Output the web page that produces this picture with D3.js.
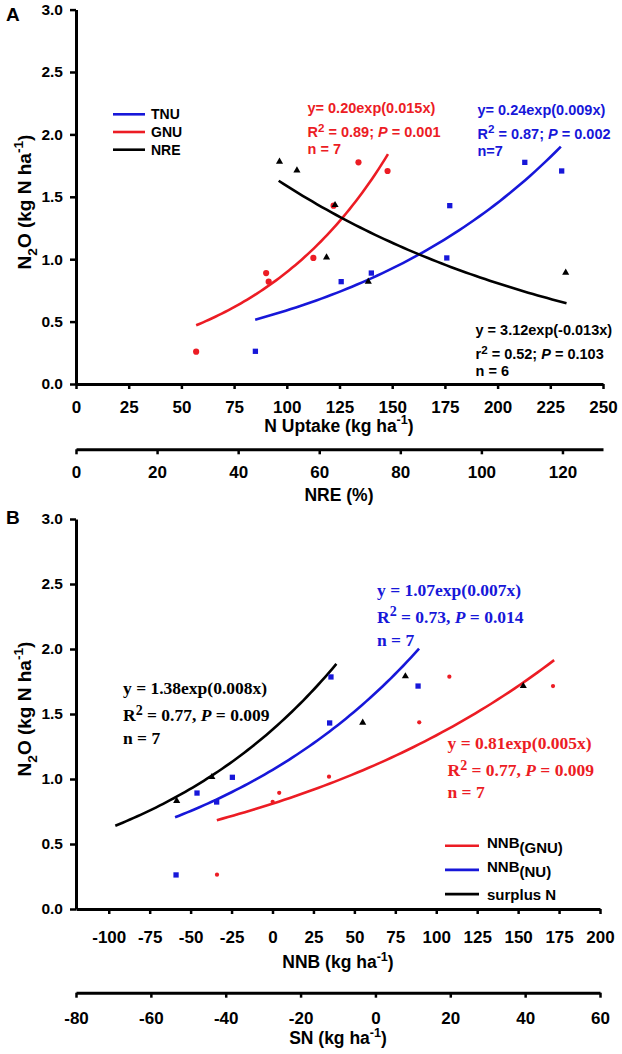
<!DOCTYPE html>
<html><head><meta charset="utf-8">
<script src="https://cdn.jsdelivr.net/npm/d3@7"></script>
<style>
html,body{margin:0;padding:0;background:#fff;}
svg{display:block;}
text{font-family:"Liberation Sans",Arial,sans-serif;font-weight:bold;}
.serif{font-family:"Liberation Serif","Times New Roman",serif;}
</style></head>
<body>
<svg id="chart" width="622" height="1054"></svg>
<script>
// ---------- Panel A data ----------
const uptakeTNU = [85.1, 125.8, 140.1, 175.9, 177.3, 212.9, 230.4];
const n2oTNU    = [0.262, 0.82, 0.889, 1.01, 1.429, 1.776, 1.707];
const uptakeGNU = [57.0, 90.2, 91.4, 112.6, 122.2, 134.0, 147.8];
const n2oGNU    = [0.259, 0.889, 0.82, 1.01, 1.429, 1.776, 1.707];
const nreValues = [50.2, 54.5, 61.8, 63.9, 72.1, 120.8];
const n2oNRE    = [1.781, 1.712, 1.015, 1.434, 0.82, 0.892];
const uptakeTicks = [0, 25, 50, 75, 100, 125, 150, 175, 200, 225, 250];
const nreTicks = [0, 20, 40, 60, 80, 100, 120];
const n2oTicks = [0, 0.5, 1.0, 1.5, 2.0, 2.5, 3.0];
// fitted exponential curves y = a*exp(b*x), drawn between fitFrom and fitTo
const fitNamesA = ["GNU", "TNU", "NRE"];
const fitA_a = [0.20, 0.24, 3.12];
const fitA_b = [0.015, 0.009, -0.013];
const fitA_from = [57, 85, 50];
const fitA_to = [148, 230, 121];

// ---------- Panel B data ----------
const nnbNU   = [-58.9, -46.1, -34.1, -24.5, 34.9, 35.7, 88.9];
const n2oNU   = [0.262, 0.892, 0.823, 1.013, 1.431, 1.785, 1.715];
const nnbGNU  = [-33.9, 0.1, 4.1, 34.5, 89.6, 108.0, 171.3];
const n2oGNUb = [0.264, 0.825, 0.894, 1.018, 1.436, 1.787, 1.715];
const snValues = [-53.1, -43.7, -3.4, 8.0, 39.5];
const n2oSN    = [0.831, 1.015, 1.433, 1.79, 1.715];
const nnbTicks = [-100, -75, -50, -25, 0, 25, 50, 75, 100, 125, 150, 175, 200];
const snTicks = [-80, -60, -40, -20, 0, 20, 40, 60];
const fitNamesB = ["GNU", "NU", "SN"];
const fitB_a = [0.81, 1.07, 1.38];
const fitB_b = [0.005, 0.007, 0.008];
const fitB_from = [-34, -59.5, -96];
const fitB_to = [172, 89.5, 39];

// ---------- styles ----------
const RED = "#ec1c24", BLUE = "#1717d9", BLACK = "#000";
const svg = d3.select("#chart");

// ---------- scales ----------
const xA = d3.scaleLinear().domain([0, 250]).range([76, 603]);
const xNRE = d3.scaleLinear().domain([0, 130]).range([76, 603]);
const yA = d3.scaleLinear().domain([0, 3]).range([384, 9.6]);
const xB = d3.scaleLinear().domain([-120, 200]).range([76, 600]);
const xSN = d3.scaleLinear().domain([-80, 60]).range([76, 600]);
const yB = d3.scaleLinear().domain([0, 3]).range([909, 519]);

const TICK_FS = 17, TITLE_FS = 17.5;
function styleAxis(g, fs) {
  g.select(".domain").attr("stroke", "#000").attr("stroke-width", 3);
  g.selectAll(".tick line").attr("stroke", "#000").attr("stroke-width", 2.5);
  g.selectAll(".tick text").attr("font-size", fs).attr("font-family", '"Liberation Sans",Arial,sans-serif')
    .attr("font-weight", "bold").attr("fill", "#000");
}
function bottomAxis(scale, ticks, yPos, labelOffset) {
  const g = svg.append("g").attr("transform", `translate(0,${yPos})`)
    .call(d3.axisBottom(scale).tickValues(ticks).tickSize(5).tickSizeOuter(0).tickFormat(d => String(d)));
  styleAxis(g, TICK_FS);
  g.selectAll(".tick text").attr("y", labelOffset).attr("dy", "0.35em");
  return g;
}
function leftAxis(scale, x) {
  const g = svg.append("g").attr("transform", `translate(${x},0)`)
    .call(d3.axisLeft(scale).tickValues(n2oTicks).tickSize(6).tickPadding(7).tickSizeOuter(0).tickFormat(d3.format(".1f")));
  styleAxis(g, 15.5);
  return g;
}
function supLabel(x, y, parts, fs, anchor, rotate) {
  const t = svg.append("text").attr("font-size", fs).attr("text-anchor", anchor || "middle");
  if (rotate) t.attr("transform", `translate(${x},${y}) rotate(-90)`); else t.attr("x", x).attr("y", y);
  parts.forEach(p => {
    const s = t.append("tspan").text(p.t);
    if (p.sub) s.attr("font-size", fs * 0.72).attr("dy", fs * 0.3);
    if (p.sup) s.attr("font-size", fs * 0.72).attr("dy", -fs * 0.42);
    if (p.back) s.attr("dy", p.back * fs);
    if (p.italic) s.attr("font-style", "italic");
  });
  return t;
}
const titleParts = [{t: "N"}, {t: "2", sub: 1}, {t: "O (kg N ha", back: -0.3}, {t: "-1", sup: 1}, {t: ")", back: 0.42}];

function drawFit(xs, ys, a, b, from, to, color) {
  const pts = d3.range(0, 61).map(i => from + (to - from) * i / 60);
  svg.append("path").attr("d", d3.line().x(d => xs(d)).y(d => ys(a * Math.exp(b * d)))(pts))
    .attr("fill", "none").attr("stroke", color).attr("stroke-width", 2.6);
}
function drawPoints(xs, ys, X, Y, shape, size, color) {
  const sym = d3.symbol().type(shape).size(size);
  svg.append("g").selectAll("path").data(X).join("path")
    .attr("d", sym).attr("fill", color)
    .attr("transform", (d, i) => `translate(${xs(d)},${ys(Y[i])})`);
}
function eqBlock(x, ys, lines, color, fs, cls) {
  lines.forEach((parts, i) => {
    const t = svg.append("text").attr("x", x).attr("y", ys[i]).attr("dy", "0.36em").attr("font-size", fs).attr("fill", color);
    if (cls) t.attr("class", cls);
    parts.forEach(p => {
      const s = t.append("tspan").text(p.t);
      if (p.sup) s.attr("font-size", fs * 0.8).attr("dy", -fs * 0.38);
      if (p.back) s.attr("dy", fs * 0.38);
      if (p.italic) s.attr("font-style", "italic");
    });
  });
}

// ================= PANEL A =================
svg.append("text").attr("x", 6).attr("y", 21).attr("font-size", 19).text("A");
bottomAxis(xA, uptakeTicks, 384, 22.7);
bottomAxis(xNRE, nreTicks, 449.3, 22.7);
leftAxis(yA, 76);
supLabel(339, 431.5, [{t: "N Uptake (kg ha"}, {t: "-1", sup: 1}, {t: ")", back: 0.42}], TITLE_FS);
svg.append("text").attr("x", 339).attr("y", 501).attr("font-size", TITLE_FS).attr("text-anchor", "middle").text("NRE (%)");
supLabel(31, 202, titleParts, 19, "middle", true);

const colorsA = {GNU: RED, TNU: BLUE, NRE: BLACK};
fitNamesA.forEach((n, i) => {
  drawFit(n === "NRE" ? xNRE : xA, yA, fitA_a[i], fitA_b[i], fitA_from[i], fitA_to[i], colorsA[n]);
});
drawPoints(xA, yA, uptakeGNU, n2oGNU, d3.symbolCircle, 30, RED);
drawPoints(xA, yA, uptakeTNU, n2oTNU, d3.symbolSquare, 28, BLUE);
drawPoints(xNRE, yA, nreValues, n2oNRE, d3.symbolTriangle, 22, BLACK);

// legend A
const legA = [["TNU", BLUE], ["GNU", RED], ["NRE", BLACK]];
legA.forEach((d, i) => {
  const y = 114.3 + i * 17.7;
  svg.append("line").attr("x1", 113).attr("x2", 145).attr("y1", y).attr("y2", y).attr("stroke", d[1]).attr("stroke-width", 2.6);
  svg.append("text").attr("x", 151).attr("y", y).attr("dy", "0.36em").attr("font-size", 14).text(d[0]);
});

// equations A
eqBlock(307.5, [107.5, 132, 148.5], [
  [{t: "y= 0.20exp(0.015x)"}],
  [{t: "R"}, {t: "2", sup: 1}, {t: " = 0.89; ", back: 1}, {t: "P", italic: 1}, {t: " = 0.001"}],
  [{t: "n = 7"}]], RED, 14.5);
eqBlock(477.5, [110, 133.5, 150.5], [
  [{t: "y= 0.24exp(0.009x)"}],
  [{t: "R"}, {t: "2", sup: 1}, {t: " = 0.87; ", back: 1}, {t: "P", italic: 1}, {t: " = 0.002"}],
  [{t: "n=7"}]], BLUE, 14.5);
eqBlock(475.5, [330, 354, 371], [
  [{t: "y = 3.12exp(-0.013x)"}],
  [{t: "r"}, {t: "2", sup: 1}, {t: " = 0.52; ", back: 1}, {t: "P", italic: 1}, {t: " = 0.103"}],
  [{t: "n = 6"}]], BLACK, 14.5);

// ================= PANEL B =================
svg.append("text").attr("x", 6).attr("y", 524).attr("font-size", 19).text("B");
bottomAxis(xB, nnbTicks, 909, 27.7);
bottomAxis(xSN, snTicks, 992.7, 25.3);
leftAxis(yB, 76);
supLabel(338, 968, [{t: "NNB (kg ha"}, {t: "-1", sup: 1}, {t: ")", back: 0.42}], TITLE_FS);
supLabel(338, 1044, [{t: "SN (kg ha"}, {t: "-1", sup: 1}, {t: ")", back: 0.42}], TITLE_FS);
supLabel(31, 709, titleParts, 19, "middle", true);

const colorsB = {GNU: RED, NU: BLUE, SN: BLACK};
fitNamesB.forEach((n, i) => {
  drawFit(xB, yB, fitB_a[i], fitB_b[i], fitB_from[i], fitB_to[i], colorsB[n]);
});
drawPoints(xB, yB, nnbGNU, n2oGNUb, d3.symbolCircle, 14, RED);
drawPoints(xB, yB, nnbNU, n2oNU, d3.symbolSquare, 28, BLUE);
drawPoints(xSN, yB, snValues, n2oSN, d3.symbolTriangle, 22, BLACK);

// legend B
const legB = [["NNB", "(GNU)", RED], ["NNB", "(NU)", BLUE], ["surplus N", "", BLACK]];
legB.forEach((d, i) => {
  const y = 845.7 + i * 24.2;
  svg.append("line").attr("x1", 445).attr("x2", 479).attr("y1", y).attr("y2", y).attr("stroke", d[2]).attr("stroke-width", 2.6);
  const t = svg.append("text").attr("x", 487).attr("y", y).attr("font-size", 15);
  t.append("tspan").text(d[0]);
  if (d[1]) { t.attr("dy", "0.15em"); t.append("tspan").attr("dy", 5).text(d[1]); }
  else t.attr("dy", "0.36em");
});

// equations B (serif)
eqBlock(123, [687.7, 715, 738], [
  [{t: "y = 1.38exp(0.008x)"}],
  [{t: "R"}, {t: "2", sup: 1}, {t: " = 0.77, ", back: 1}, {t: "P", italic: 1}, {t: " = 0.009"}],
  [{t: "n = 7"}]], BLACK, 17.5, "serif");
eqBlock(377, [590, 616.7, 639.3], [
  [{t: "y = 1.07exp(0.007x)"}],
  [{t: "R"}, {t: "2", sup: 1}, {t: " = 0.73, ", back: 1}, {t: "P", italic: 1}, {t: " = 0.014"}],
  [{t: "n = 7"}]], BLUE, 17.5, "serif");
eqBlock(447.5, [742.7, 770, 791.7], [
  [{t: "y = 0.81exp(0.005x)"}],
  [{t: "R"}, {t: "2", sup: 1}, {t: " = 0.77, ", back: 1}, {t: "P", italic: 1}, {t: " = 0.009"}],
  [{t: "n = 7"}]], RED, 17.5, "serif");
</script>
</body></html>
